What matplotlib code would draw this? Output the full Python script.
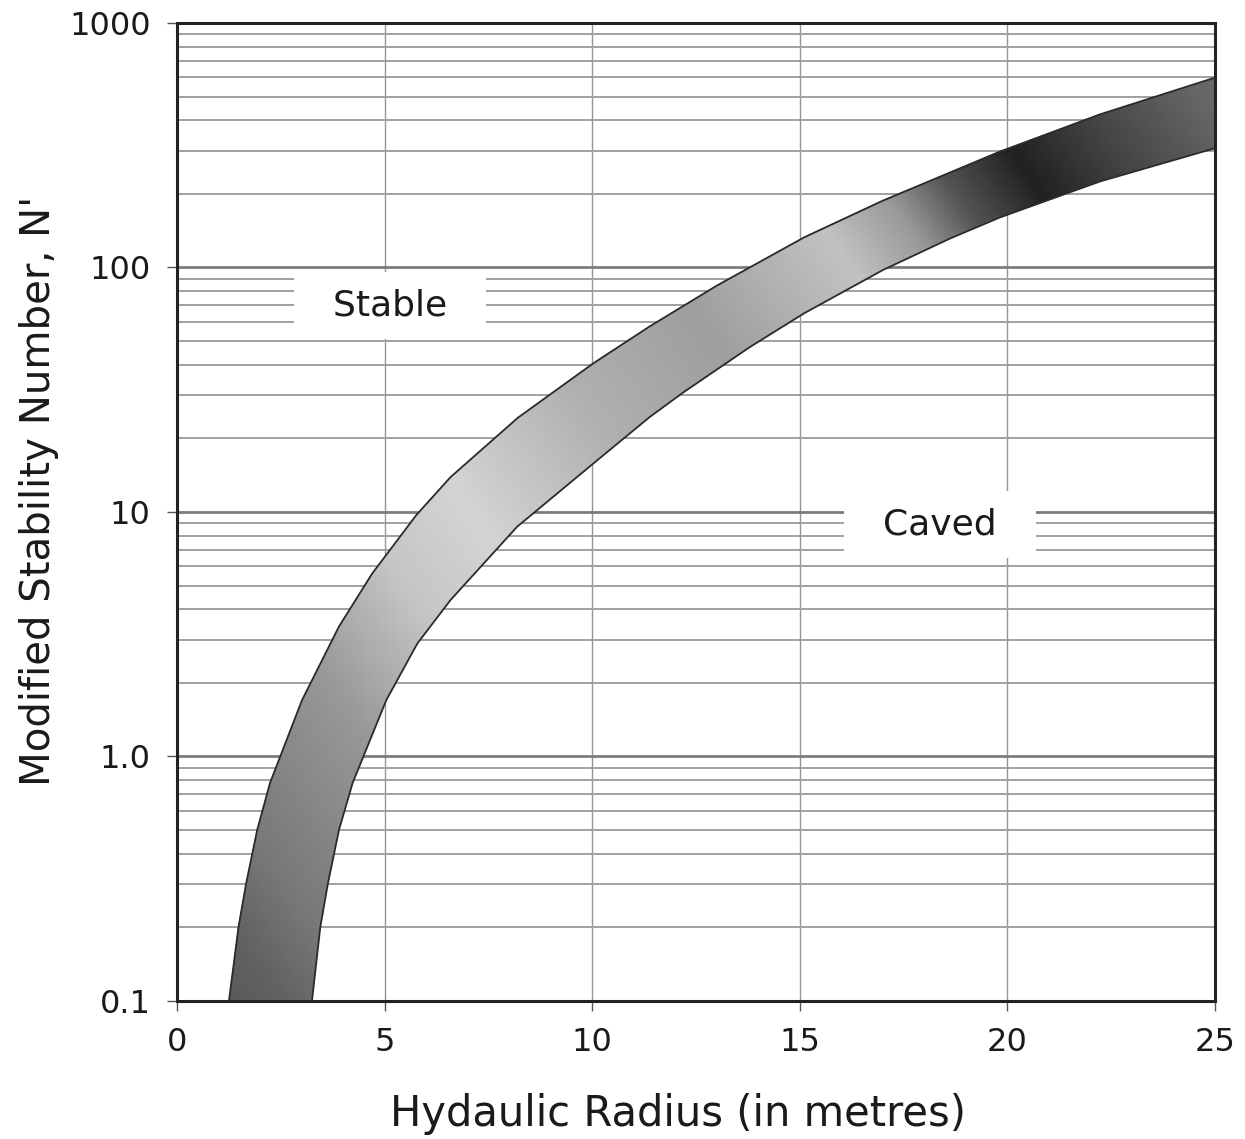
import numpy as np
import matplotlib
matplotlib.use("Agg")
from matplotlib import pyplot as plt
from matplotlib.patches import Polygon
from matplotlib.ticker import LogLocator, NullFormatter

# band boundaries (hydraulic radius, N')
upper_x = [1.25, 1.48, 1.66, 1.93, 2.24, 3.01, 3.90, 4.70, 5.76, 6.59, 8.21,
           10.03, 11.39, 13.0, 15.1, 17.01, 19.82, 22.23, 25.0]
upper_n = [0.10, 0.20, 0.30, 0.50, 0.78, 1.70, 3.4, 5.6, 9.7, 13.9, 24.3,
           40.6, 57.5, 84.3, 132.7, 188, 298, 423, 598]
lower_x = [3.25, 3.45, 3.63, 3.90, 4.23, 5.04, 5.79, 6.59, 8.19, 10.03, 11.39,
           12.19, 13.8, 15.1, 17.01, 18.62, 19.82, 22.23, 25.0]
lower_n = [0.10, 0.20, 0.30, 0.50, 0.78, 1.70, 2.9, 4.37, 8.7, 15.8, 24.5,
           30.8, 47.3, 64.9, 97.8, 131.4, 160.2, 224.8, 307.5]

x_ticks = [0, 5, 10, 15, 20, 25]
y_ticks = [0.1, 1, 10, 100, 1000]
y_tick_labels = ["0.1", "1.0", "10", "100", "1000"]
region_labels = ["Stable", "Caved"]

# grey shading along the band (position -> grey level)
shade_pos = [0.0, 0.06, 0.11, 0.22, 0.30, 0.37, 0.48, 0.58, 0.69, 0.74, 0.78, 0.83, 0.89, 0.96, 1.0]
shade_grey = [0.33, 0.38, 0.47, 0.60, 0.77, 0.83, 0.69, 0.62, 0.76, 0.60, 0.33, 0.13, 0.27, 0.40, 0.43]

txt = "#1a1a1a"

fig = plt.figure(figsize=(12.45, 11.39), dpi=100)
ax = fig.add_axes([0.1422, 0.1212, 0.8337, 0.8586])
ax.set_yscale("log")
ax.set_xlim(0, 25)
ax.set_ylim(0.1, 1000)

# grid
ax.yaxis.set_minor_locator(LogLocator(base=10, subs=np.arange(2, 10)))
ax.yaxis.set_minor_formatter(NullFormatter())
ax.grid(True, which="minor", axis="y", color="#a0a0a0", lw=1.4, zorder=1)
ax.grid(True, which="major", axis="y", color="#7c7c7c", lw=2.0, zorder=1)
ax.grid(True, which="major", axis="x", color="#959595", lw=1.0, zorder=1)

# gradient filled band
gx = np.linspace(0, 25, 220)
gl = np.linspace(-1, 3, 220)
GX, GL = np.meshgrid(gx, gl)
s = 0.6 * GX / 25 + 0.4 * (GL + 1) / 4
grey = np.interp(s, shade_pos, shade_grey)
mesh = ax.pcolormesh(gx, 10 ** gl, grey, cmap="gray", vmin=0, vmax=1,
                     shading="gouraud", zorder=3)
outline = np.column_stack([upper_x + lower_x[::-1], upper_n + lower_n[::-1]])
band = Polygon(outline, closed=True, facecolor="none", edgecolor="none",
               transform=ax.transData)
ax.add_patch(band)
mesh.set_clip_path(band)
ax.plot(upper_x, upper_n, color="#2a2a2a", lw=1.3, zorder=4)
ax.plot(lower_x, lower_n, color="#2a2a2a", lw=1.3, zorder=4)

# region labels
box = dict(boxstyle="square,pad=0.45", facecolor="white", edgecolor="none")
ax.text(5.13, 70, "  " + region_labels[0] + "  ", fontsize=26, color=txt,
        ha="center", va="center", bbox=box, zorder=5)
ax.text(18.38, 8.9, "  " + region_labels[1] + "  ", fontsize=26, color=txt,
        ha="center", va="center", bbox=box, zorder=5)

# axes, ticks and labels
ax.set_xticks(x_ticks)
ax.set_xticklabels([str(v) for v in x_ticks])
ax.set_yticks(y_ticks)
ax.set_yticklabels(y_tick_labels)
ax.tick_params(axis="both", which="major", direction="out", length=7,
               width=1, color="#555555", labelsize=23, labelcolor=txt)
ax.tick_params(axis="x", which="major", pad=12)
ax.tick_params(axis="y", which="major", pad=12)
ax.tick_params(axis="y", which="minor", length=0)
for sp in ax.spines.values():
    sp.set_color("#222222")
    sp.set_linewidth(2.2)
    sp.set_zorder(6)

ax.set_xlabel("Hydaulic Radius (in metres)", fontsize=30, color=txt)
ax.set_ylabel("Modified Stability Number, N'", fontsize=29, color=txt)
ax.xaxis.set_label_coords(0.4827, -0.094)
ax.yaxis.set_label_coords(-0.114, 0.522)

fig.savefig("out.png", dpi=100)
